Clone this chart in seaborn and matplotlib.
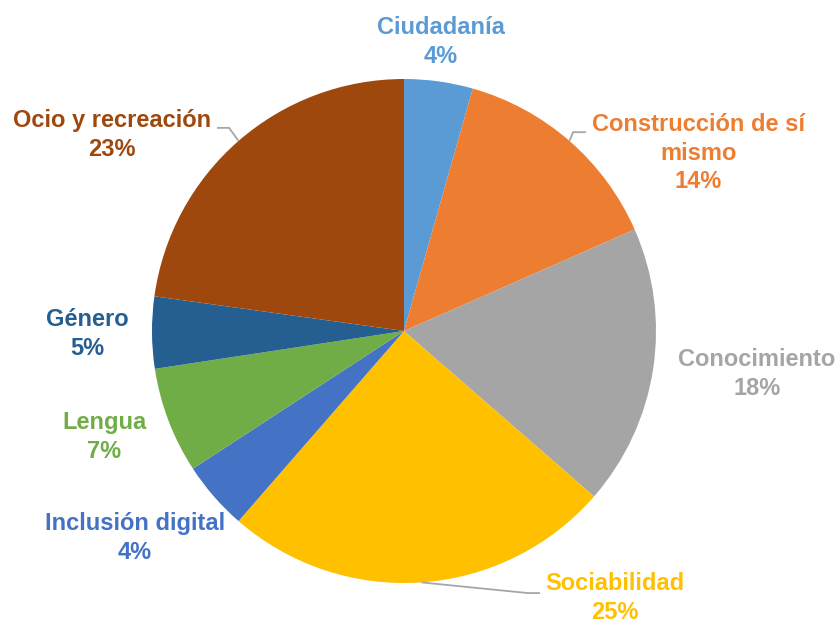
import numpy as np
import seaborn as sns
import matplotlib.pyplot as plt

categories = ["Ciudadanía", "Construcción de sí\nmismo", "Conocimiento", "Sociabilidad",
              "Inclusión digital", "Lengua", "Género", "Ocio y recreación"]
shares = [4.4, 14.0, 18.0, 25.0, 4.4, 6.8, 4.6, 22.8]

colors = ["#5B9BD5", "#ED7D31", "#A5A5A5", "#FFC000",
          "#4472C4", "#70AD47", "#255E91", "#9E480E"]

# label centres in pie-radius units (layout only)
label_pos = [(0.147, 1.147), (1.167, 0.706), (1.401, -0.171), (0.837, -1.060),
             (-1.067, -0.821), (-1.190, -0.421), (-1.258, -0.012), (-1.159, 0.778)]
leaders = [False, True, False, True, False, False, False, True]

sns.set_theme(style="white")
plt.rcParams["font.family"] = ["Liberation Sans", "DejaVu Sans"]

fig = plt.figure(figsize=(8.39, 6.23), dpi=100)
ax = fig.add_axes([0, 0, 1, 1])

wedges, _ = ax.pie(shares, colors=colors, startangle=90, counterclock=False,
                   radius=1.0, wedgeprops=dict(linewidth=0))

for w, name, val, col, (lx, ly), lead in zip(wedges, categories, shares, colors, label_pos, leaders):
    ax.text(lx, ly, f"{name}\n{round(val)}%", ha="center", va="center",
            color=col, fontsize=17, fontweight="bold", linespacing=1.3)
    if lead:
        mid = np.deg2rad((w.theta1 + w.theta2) / 2)
        sx, sy = np.cos(mid), np.sin(mid)
        if sx > 0 and sy > 0:      # upper right
            pts = [(sx, sy), (0.671, 0.789), (0.722, 0.789)]
        elif sx < 0:               # upper left
            pts = [(sx, sy), (-0.694, 0.806), (-0.742, 0.806)]
        else:                      # bottom
            pts = [(sx, sy), (0.492, -1.040), (0.540, -1.040)]
        xs, ys = zip(*pts)
        ax.plot(xs, ys, color="#A6A6A6", lw=1.3, solid_capstyle="butt")

ax.set_xlim(-404 / 252, (839 - 404) / 252)
ax.set_ylim((331 - 623) / 252, 331 / 252)
ax.set_aspect("equal")
ax.axis("off")

fig.savefig("out.png", dpi=100, facecolor="white")
